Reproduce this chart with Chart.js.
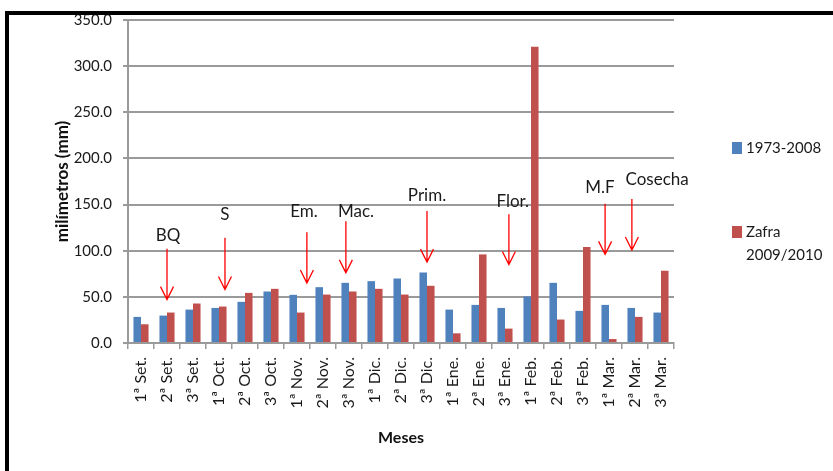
<!DOCTYPE html>
<html>
<head>
<script src="https://cdn.jsdelivr.net/npm/chart.js@4.4.1/dist/chart.umd.min.js"></script>
<title>Precipitación por décadas</title>
<style>
  body { margin: 0; background: #fff; }
  #wrap { position: relative; width: 833px; height: 471px; }
  /* black frame on top/left, drawn over the chart */
  #frame { position: absolute; left: 5px; top: 11px; right: 0; bottom: 0;
           border-left: 4px solid #000; border-top: 4px solid #000; pointer-events: none; }
</style>
</head>
<body>
<div id="wrap">
  <canvas id="myChart" width="833" height="471"></canvas>
  <div id="frame"></div>
</div>
<script>
// decades (1ª, 2ª, 3ª of each month)
const decadas = ['1ª Set.', '2ª Set.', '3ª Set.', '1ª Oct.', '2ª Oct.', '3ª Oct.',
                 '1ª Nov.', '2ª Nov.', '3ª Nov.', '1ª Dic.', '2ª Dic.', '3ª Dic.',
                 '1ª Ene.', '2ª Ene.', '3ª Ene.', '1ª Feb.', '2ª Feb.', '3ª Feb.',
                 '1ª Mar.', '2ª Mar.', '3ª Mar.'];
// rainfall in mm
const historico = [28.3, 29.7, 36.2, 38.0, 44.6, 55.8, 52.2, 60.5, 65.2, 67.0, 69.9,
                   76.4, 36.2, 41.3, 38.0, 50.4, 65.2, 34.8, 41.3, 38.0, 33.0];
const zafra = [20.3, 33.0, 42.8, 39.5, 54.3, 58.7, 33.0, 52.5, 55.8, 58.7, 52.5,
               62.0, 10.5, 96.0, 15.6, 321.0, 25.4, 104.0, 4.3, 28.3, 78.3];
const serieNombres = ['1973-2008', 'Zafra 2009/2010'];
const legendLines = [['1973-2008'], ['Zafra', '2009/2010']];
const yTicks = [0, 50, 100, 150, 200, 250, 300, 350];

// crop stages: arrow x (category index), arrow start/end (mm), text position
const etapas = ['BQ', 'S', 'Em.', 'Mac.', 'Prim.', 'Flor.', 'M.F', 'Cosecha'];
const etapaFlechaX = [1.0, 3.23, 6.38, 7.88, 11.0, 14.15, 17.85, 18.88];
const etapaDesde = [102, 114, 120, 132, 143, 139.5, 151, 156];
const etapaHasta = [47, 58, 65, 76, 87.6, 85, 96, 100.7];
const etapaTextoX = [1.04, 3.23, 6.27, 8.27, 11.0, 14.3, 17.65, 19.85];
const etapaTextoY = [116, 139, 142, 142, 160, 153, 169, 177.5];

const gridGray = '#9a9a9a';
const FONT = 'Lato, "Open Sans", sans-serif';

// draws the red stage arrows, their names and the side legend
const stagePlugin = {
  id: 'stagePlugin',
  afterDatasetsDraw(chart) {
    const ctx = chart.ctx;
    const x = chart.scales.x, y = chart.scales.y;
    ctx.save();
    ctx.strokeStyle = '#ff0000';
    ctx.lineWidth = 1.3;
    etapas.forEach(function(name, i) {
      const ax = x.getPixelForValue(etapaFlechaX[i]);
      const y0 = y.getPixelForValue(etapaDesde[i]);
      const y1 = y.getPixelForValue(etapaHasta[i]);
      ctx.beginPath();
      ctx.moveTo(ax, y0);
      ctx.lineTo(ax, y1);
      ctx.moveTo(ax - 6.5, y1 - 13);
      ctx.lineTo(ax, y1);
      ctx.lineTo(ax + 6.5, y1 - 13);
      ctx.stroke();

      ctx.fillStyle = '#1a1a1a';
      ctx.font = '17px ' + FONT;
      ctx.textAlign = 'center';
      ctx.textBaseline = 'middle';
      ctx.fillText(name, x.getPixelForValue(etapaTextoX[i]), y.getPixelForValue(etapaTextoY[i]));
    });

    // legend
    const lx = chart.chartArea.right + 58;
    const rowY = [148, 232];
    ctx.font = '15px ' + FONT;
    ctx.textAlign = 'left';
    chart.data.datasets.forEach(function(ds, i) {
      ctx.fillStyle = ds.backgroundColor;
      ctx.fillRect(lx, rowY[i] - 6, 10, 12);
      ctx.fillStyle = '#1a1a1a';
      legendLines[i].forEach(function(line, j) {
        ctx.fillText(line, lx + 14, rowY[i] + j * 23);
      });
    });
    ctx.restore();
  }
};

const ctx = document.getElementById('myChart').getContext('2d');
const myChart = new Chart(ctx, {
  type: 'bar',
  data: {
    labels: decadas,
    datasets: [
      { label: serieNombres[0], data: historico, backgroundColor: '#4f81bd',
        categoryPercentage: 0.58, barPercentage: 1.0 },
      { label: serieNombres[1], data: zafra, backgroundColor: '#c0504d',
        categoryPercentage: 0.58, barPercentage: 1.0 }
    ]
  },
  options: {
    responsive: false,
    animation: false,
    layout: { padding: { top: 19, right: 159, bottom: 24, left: 52 } },
    plugins: { legend: { display: false }, tooltip: { enabled: false } },
    scales: {
      x: {
        afterFit: function(scale) { scale.height = 104; },
        grid: { drawOnChartArea: false, drawTicks: true, tickLength: 6, color: gridGray, lineWidth: 1.5 },
        border: { color: gridGray, width: 2 },
        ticks: { minRotation: 90, maxRotation: 90, padding: 8, color: '#1a1a1a',
                 font: { family: FONT, size: 16 } },
        title: { display: true, text: 'Meses', color: '#111', padding: 0,
                 font: { family: FONT, size: 16, weight: 'bold' } }
      },
      y: {
        min: 0, max: 350,
        afterFit: function(scale) { scale.width = 76; },
        afterBuildTicks: function(scale) { scale.ticks = yTicks.map(function(v) { return { value: v }; }); },
        grid: { color: gridGray, lineWidth: 2, tickLength: 5 },
        border: { color: gridGray, width: 2 },
        ticks: { padding: 11, color: '#1a1a1a', font: { family: FONT, size: 15 },
                 callback: function(v) { return Number(v).toFixed(1); } },
        title: { display: true, text: 'milímetros (mm)', color: '#111', padding: 0,
                 font: { family: FONT, size: 17, weight: 'bold' } }
      }
    }
  },
  plugins: [stagePlugin]
});
</script>
</body>
</html>
